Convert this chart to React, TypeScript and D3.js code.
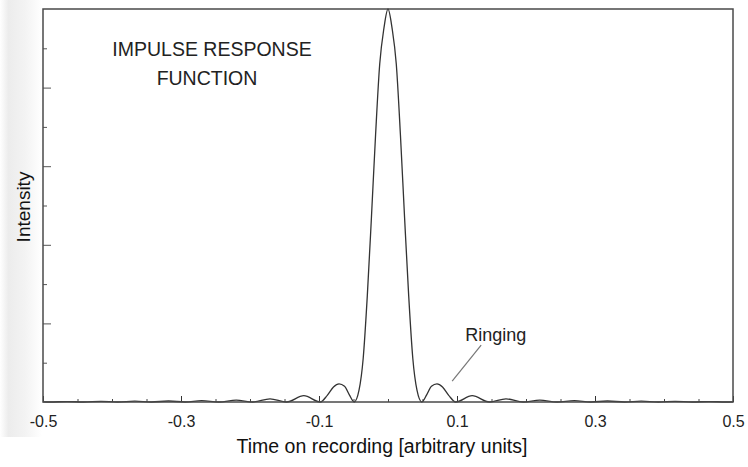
import React, { useEffect, useRef } from 'react';
import * as d3 from 'd3';

// time on recording (arbitrary units) and intensity
const curveTime = [
    -0.5, -0.49, -0.465, -0.441, -0.416, -0.392, -0.367, -0.343, -0.318, -0.294,
    -0.27, -0.245, -0.22, -0.196, -0.171, -0.147, -0.122, -0.098, -0.088, -0.079,
    -0.071, -0.063, -0.056, -0.049, -0.042, -0.036, -0.03, -0.024, -0.018, -0.012,
    -0.006, 0,
    0.006, 0.012, 0.018, 0.024, 0.03, 0.036, 0.042, 0.049, 0.056, 0.063,
    0.071, 0.079, 0.088, 0.098, 0.122, 0.147, 0.171, 0.196, 0.22, 0.245,
    0.27, 0.294, 0.318, 0.343, 0.367, 0.392, 0.416, 0.441, 0.465, 0.49, 0.5,
];
const curveIntensity = [
    0.0005, 0, 0.0012, 0, 0.0015, 0, 0.002, 0, 0.0025, 0,
    0.0035, 0, 0.005, 0, 0.008, 0, 0.016, 0, 0.017, 0.038,
    0.046, 0.04, 0.018, 0, 0.03, 0.11, 0.27, 0.47, 0.68, 0.86,
    0.95, 1,
    0.95, 0.86, 0.68, 0.47, 0.27, 0.11, 0.03, 0, 0.018, 0.04,
    0.046, 0.038, 0.017, 0, 0.016, 0, 0.008, 0, 0.005, 0,
    0.0035, 0, 0.0025, 0, 0.002, 0, 0.0015, 0, 0.0012, 0, 0.0005,
];

const xTickValues = [-0.5, -0.3, -0.1, 0.1, 0.3, 0.5];
const xTickLabels = ["-0.5", "-0.3", "-0.1", "0.1", "0.3", "0.5"];
const xMinorTicks = [-0.45, -0.4, -0.35, -0.25, -0.2, -0.15, -0.05, 0, 0.05, 0.15, 0.2, 0.25, 0.35, 0.4, 0.45];
const yLongTicks = [0.2, 0.4, 0.6, 0.8];
const yShortTicks = [0.1, 0.3, 0.5, 0.7, 0.9];

const titleLines = ["IMPULSE RESPONSE", "FUNCTION"];
const ringingLabel = "Ringing";
// annotation leader, in data units: [time, intensity]
const ringingFrom = [0.135, 0.145];
const ringingTo = [0.093, 0.053];
const ringingText = [0.112, 0.155];

const FONT = "'Liberation Sans', Arial, Helvetica, sans-serif";

function ImpulseChart() {
    const svgRef = useRef(null);

    useEffect(() => {
        const width = 748;
        const height = 467;
        const margin = { top: 9, right: 15, bottom: 65, left: 43 };

        const xScale = d3.scaleLinear()
            .domain([-0.5, 0.5])
            .range([margin.left, width - margin.right]);

        const yScale = d3.scaleLinear()
            .domain([0, 1])
            .range([height - margin.bottom, margin.top]);

        const svg = d3.select(svgRef.current)
            .attr("viewBox", [0, 0, width, height]);

        svg.selectAll("*").remove();

        // faint scanner shadow down the left edge
        const grad = svg.append("defs").append("linearGradient")
            .attr("id", "scanShade")
            .attr("x1", 0).attr("x2", 1).attr("y1", 0).attr("y2", 0);
        grad.append("stop").attr("offset", 0).attr("stop-color", "#ffffff");
        grad.append("stop").attr("offset", 0.2).attr("stop-color", "#ececec");
        grad.append("stop").attr("offset", 0.6).attr("stop-color", "#f3f3f3");
        grad.append("stop").attr("offset", 1).attr("stop-color", "#ffffff");
        svg.append("rect")
            .attr("x", 0).attr("y", 0)
            .attr("width", 42).attr("height", 437)
            .attr("fill", "url(#scanShade)");

        const x0 = height - margin.bottom;

        // minor ticks on the time axis
        svg.append("g")
            .attr("transform", `translate(0,${x0})`)
            .attr("color", "#444")
            .call(d3.axisBottom(xScale).tickValues(xMinorTicks).tickSize(-3).tickFormat(() => ""))
            .call(g => g.select(".domain").remove());

        // labelled ticks
        svg.append("g")
            .attr("transform", `translate(0,${x0})`)
            .attr("color", "#333")
            .call(d3.axisBottom(xScale)
                .tickValues(xTickValues)
                .tickSize(-6)
                .tickPadding(14)
                .tickFormat((d, i) => xTickLabels[i]))
            .call(g => g.select(".domain").remove())
            .call(g => g.selectAll("text")
                .attr("font-size", 16)
                .attr("font-family", FONT)
                .attr("fill", "#222"));

        svg.append("g")
            .attr("transform", `translate(${margin.left},0)`)
            .attr("color", "#555")
            .call(d3.axisLeft(yScale).tickValues(yLongTicks).tickSize(-8).tickFormat(() => ""))
            .call(g => g.select(".domain").remove());

        svg.append("g")
            .attr("transform", `translate(${margin.left},0)`)
            .attr("color", "#555")
            .call(d3.axisLeft(yScale).tickValues(yShortTicks).tickSize(-4).tickFormat(() => ""))
            .call(g => g.select(".domain").remove());

        const points = curveTime.map((t, i) => [t, curveIntensity[i]]);
        const lineGenerator = d3.line()
            .x(d => xScale(d[0]))
            .y(d => yScale(d[1]))
            .curve(d3.curveMonotoneX);

        svg.append("path")
            .datum(points)
            .attr("fill", "none")
            .attr("stroke", "#333")
            .attr("stroke-width", 1.3)
            .attr("d", lineGenerator);

        // frame
        svg.append("rect")
            .attr("x", margin.left)
            .attr("y", margin.top)
            .attr("width", width - margin.left - margin.right)
            .attr("height", height - margin.top - margin.bottom)
            .attr("fill", "none")
            .attr("stroke", "#4a4a4a")
            .attr("stroke-width", 1.5);

        svg.append("text")
            .attr("x", 212)
            .attr("y", 56)
            .attr("text-anchor", "middle")
            .attr("font-family", FONT)
            .attr("font-size", 19.5)
            .attr("fill", "#222")
            .text(titleLines[0]);

        svg.append("text")
            .attr("x", 207)
            .attr("y", 85)
            .attr("text-anchor", "middle")
            .attr("font-family", FONT)
            .attr("font-size", 19.5)
            .attr("fill", "#222")
            .text(titleLines[1]);

        svg.append("line")
            .attr("x1", xScale(ringingFrom[0]))
            .attr("y1", yScale(ringingFrom[1]))
            .attr("x2", xScale(ringingTo[0]))
            .attr("y2", yScale(ringingTo[1]))
            .attr("stroke", "#777")
            .attr("stroke-width", 1.2);

        svg.append("text")
            .attr("x", xScale(ringingText[0]))
            .attr("y", yScale(ringingText[1]))
            .attr("font-family", FONT)
            .attr("font-size", 18)
            .attr("fill", "#222")
            .text(ringingLabel);

        svg.append("text")
            .attr("text-anchor", "middle")
            .attr("x", 382)
            .attr("y", 453)
            .attr("font-family", FONT)
            .attr("font-size", 19.5)
            .attr("fill", "#111")
            .text("Time on recording [arbitrary units]");

        svg.append("text")
            .attr("text-anchor", "middle")
            .attr("transform", "rotate(-90)")
            .attr("x", -207)
            .attr("y", 30)
            .attr("font-family", FONT)
            .attr("font-size", 19)
            .attr("fill", "#111")
            .text("Intensity");
    }, []);

    return (
        <svg
            ref={svgRef}
            width={748}
            height={467}
            style={{ position: 'absolute', left: 0, top: 0, display: 'block', background: '#fff' }}
        ></svg>
    );
}

export default function App() {
    return <ImpulseChart />;
}
